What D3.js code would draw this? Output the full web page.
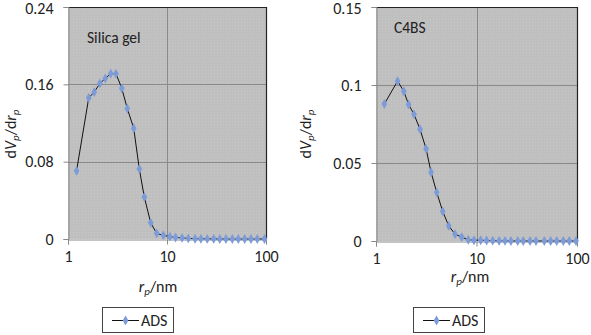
<!DOCTYPE html>
<html><head><meta charset="utf-8">
<script src="https://cdn.jsdelivr.net/npm/d3@7"></script>
<style>
body{margin:0;background:#fff;}
svg text{font-family:Carlito,"Open Sans","Liberation Sans",sans-serif;fill:#222;}
</style></head><body>
<svg id="c" width="591" height="335"></svg>
<script>
// Silica gel series
const silicaR = [1.22,1.62,1.84,2.10,2.38,2.70,3.05,3.49,3.97,4.61,5.25,5.90,6.85,7.87,9.18,10.7,12.2,14.2,16.4,19.2,22.0,25.5,29.6,34.1,39.4,45.7,52.5,60.9,70.5,81.7,96.5];
const silicaV = [0.0705,0.146,0.152,0.161,0.166,0.171,0.171,0.156,0.135,0.1146,0.0725,0.0434,0.0167,0.0058,0.0038,0.0024,0.0016,0.0011,0.0006,0.0003,0.0002,0.0001,0.0001,0,0,0,0,0,0,0,0];
// C4BS series
const c4bsR = [1.21,1.64,1.89,2.11,2.39,2.74,3.15,3.53,4.02,4.61,5.29,6.11,7.13,8.28,9.44,11.0,12.6,14.5,16.8,19.2,22.0,25.7,29.2,34.1,39.1,47.3,54.7,62.8,73.1,83.8,97.7];
const c4bsV = [0.0878,0.1025,0.096,0.0875,0.0812,0.0717,0.0591,0.0441,0.0312,0.019,0.0097,0.0044,0.0025,0.0008,0.0005,0.0005,0.0003,0.0002,0.0001,0.0001,0,0,0,0,0,0,0,0,0,0,0];
const xTicks = [1,10,100];
const silicaYTicks = [0,0.08,0.16,0.24];
const c4bsYTicks = [0,0.05,0.1,0.15];
const panelLabels = ["Silica gel","C4BS"];
const legendLabel = "ADS";

const FONT = "Carlito,'Open Sans','Liberation Sans',sans-serif";
const svg = d3.select("#c");
const defs = svg.append("defs");
const pat = defs.append("pattern").attr("id","dots").attr("width",3).attr("height",3).attr("patternUnits","userSpaceOnUse");
pat.append("rect").attr("width",3).attr("height",3).attr("fill","#bfbfbf");
pat.append("rect").attr("x",1).attr("y",1).attr("width",1).attr("height",1).attr("fill","#c8c8c8");

function panel(cfg){
  const x = d3.scaleLog().domain([1,100]).range([cfg.x0,cfg.x1]);
  const y = d3.scaleLinear().domain([0,cfg.ymax]).range([cfg.y1,cfg.y0]);
  const g = svg.append("g");
  g.append("rect").attr("x",cfg.x0).attr("y",cfg.y0).attr("width",cfg.x1-cfg.x0).attr("height",cfg.y1-cfg.y0).attr("fill","url(#dots)");
  // grid
  g.selectAll(".hg").data(cfg.yTicks.slice(1)).enter().append("line")
    .attr("x1",cfg.x0).attr("x2",cfg.x1).attr("y1",d=>Math.round(y(d))+0.5).attr("y2",d=>Math.round(y(d))+0.5)
    .attr("stroke","#8a8a8a").attr("stroke-width",1);
  g.append("line").attr("x1",Math.round(x(10))+0.5).attr("x2",Math.round(x(10))+0.5).attr("y1",cfg.y0).attr("y2",cfg.y1)
    .attr("stroke","#8a8a8a").attr("stroke-width",1);
  // border top/right
  g.append("path").attr("d",`M${cfg.x0},${cfg.y0+0.5}H${cfg.x1+0.5}V${cfg.y1}`).attr("fill","none").attr("stroke","#222").attr("stroke-width",1.2);
  // axes
  const yAx = d3.axisLeft(y).tickValues(cfg.yTicks).tickFormat(d=>String(d)).tickSize(5);
  const ya = g.append("g").attr("transform",`translate(${cfg.x0+0.5},0)`).call(yAx);
  const xAx = d3.axisBottom(x).tickValues(xTicks).tickFormat(d3.format("d")).tickSize(5);
  const xa = g.append("g").attr("transform",`translate(0,${cfg.y1+0.5})`).call(xAx);
  [ya,xa].forEach(a=>{a.select(".domain").attr("stroke","#8a8a8a");a.selectAll(".tick line").attr("stroke","#8a8a8a");
    a.selectAll("text").attr("font-size",16).attr("font-family",FONT).attr("fill","#222");});
  ya.selectAll("text").attr("x",-15);
  ya.selectAll(".tick").filter(d=>d===cfg.ymax).select("text").attr("dy","0.42em");
  xa.selectAll("text").attr("y",11);
  // line + markers
  const pts = cfg.r.map((r,i)=>[r,cfg.v[i]]);
  g.append("path").datum(pts).attr("fill","none").attr("stroke","#111").attr("stroke-width",1)
    .attr("d",d3.line().x(d=>x(d[0])).y(d=>y(d[1])));
  g.selectAll(".m").data(pts).enter().append("path")
    .attr("d",d3.symbol(d3.symbolDiamond,28)).attr("fill","#7c9bd8")
    .attr("transform",d=>`translate(${x(d[0])},${y(d[1])})`);
  // panel label
  g.append("text").attr("x",cfg.lx).attr("y",cfg.ly).attr("font-size",15.5).text(cfg.label);
  // x title
  const xt = g.append("text").attr("x",cfg.xtx).attr("y",cfg.xty).attr("text-anchor","middle").attr("font-size",16);
  xt.append("tspan").attr("font-style","italic").text("r");
  xt.append("tspan").attr("font-style","italic").attr("font-size",11).attr("dy",3).text("p");
  xt.append("tspan").attr("dy",-3).text("/nm");
  // y title
  const yt = g.append("text").attr("transform",`translate(${cfg.ytx},${cfg.yty}) rotate(-90)`).attr("text-anchor","middle").attr("font-size",16);
  yt.append("tspan").text("d");
  yt.append("tspan").attr("font-style","italic").text("V");
  yt.append("tspan").attr("font-style","italic").attr("font-size",11).attr("dy",3).text("p");
  yt.append("tspan").attr("dy",-3).text("/d");
  yt.append("tspan").attr("font-style","italic").text("r");
  yt.append("tspan").attr("font-style","italic").attr("font-size",11).attr("dy",3).text("p");
  // legend
  const lg = g.append("g");
  lg.append("rect").attr("x",cfg.lgx+0.5).attr("y",307.5).attr("width",71).attr("height",25).attr("fill","#fff").attr("stroke","#444");
  lg.append("line").attr("x1",cfg.lgx+10).attr("x2",cfg.lgx+37).attr("y1",320.5).attr("y2",320.5).attr("stroke","#111");
  lg.append("path").attr("d",d3.symbol(d3.symbolDiamond,28)).attr("fill","#7c9bd8").attr("transform",`translate(${cfg.lgx+23.5},320.5)`);
  lg.append("text").attr("x",cfg.lgx+39).attr("y",326).attr("font-size",16).text(legendLabel);
}

panel({x0:68,x1:266,y0:7,y1:239,ymax:0.24,yTicks:silicaYTicks,r:silicaR,v:silicaV,label:panelLabels[0],lx:87,ly:43,xtx:158,xty:292,ytx:16,yty:134,lgx:102});
panel({x0:376,x1:577,y0:7,y1:241,ymax:0.15,yTicks:c4bsYTicks,r:c4bsR,v:c4bsV,label:panelLabels[1],lx:394,ly:33,xtx:470,xty:282,ytx:311,yty:134,lgx:413});
</script></body></html>
